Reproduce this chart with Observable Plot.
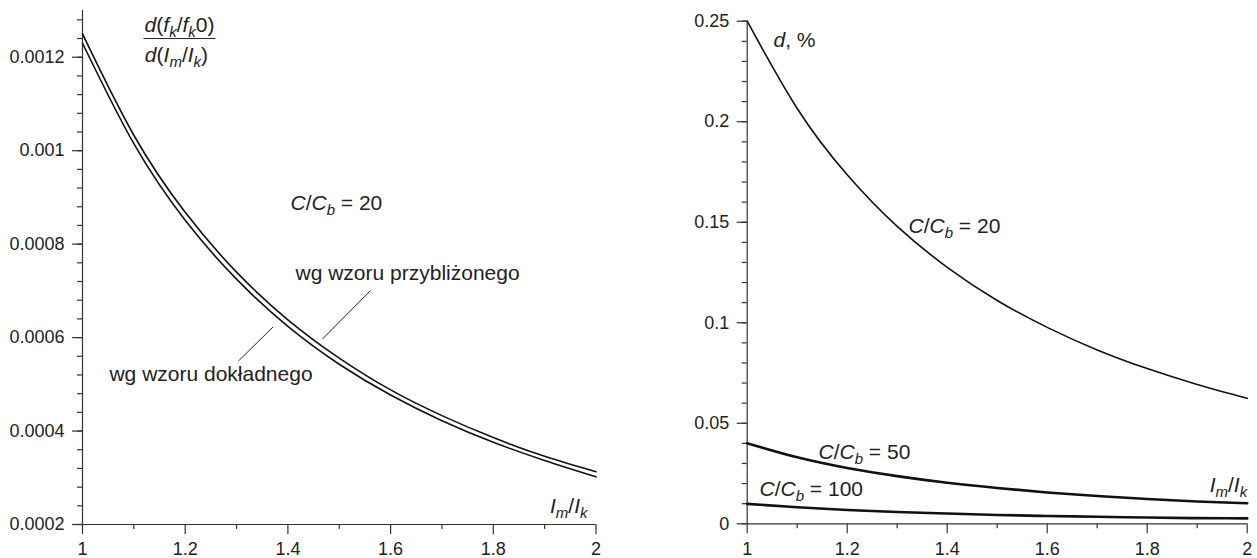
<!DOCTYPE html>
<html><head><meta charset="utf-8">
<script src="https://cdn.jsdelivr.net/npm/d3@7"></script>
<script src="https://cdn.jsdelivr.net/npm/@observablehq/plot@0.6"></script>
<style>
body{margin:0;background:#fff}
#wrap{display:flex;width:1257px;height:558px;overflow:hidden}
</style>
</head><body><div id="wrap"></div>
<script>
// ---- data ----
const ratio = [1, 1.1, 1.2, 1.3, 1.4, 1.5, 1.6, 1.7, 1.8, 1.9, 2];
const leftApprox = [0.00125, 0.001033, 0.000868, 0.00074, 0.000638, 0.000556, 0.000488, 0.000433, 0.000386, 0.000346, 0.000313];
const leftExact  = [0.00123, 0.001015, 0.000851, 0.000725, 0.000624, 0.000543, 0.000477, 0.000422, 0.000376, 0.000337, 0.000302];
const rightC20  = [0.25, 0.2066, 0.1736, 0.1479, 0.1276, 0.1111, 0.0977, 0.0865, 0.0772, 0.0693, 0.0624];
const rightC50  = [0.0401, 0.0331, 0.0278, 0.0237, 0.0204, 0.0178, 0.0156, 0.0138, 0.0123, 0.0111, 0.0102];
const rightC100 = [0.0099, 0.0082, 0.0069, 0.0059, 0.0051, 0.0044, 0.0039, 0.0035, 0.0031, 0.0028, 0.0027];

const xTicks = [1, 1.2, 1.4, 1.6, 1.8, 2];
const xTickLabels = ["1", "1.2", "1.4", "1.6", "1.8", "2"];
const xMinor = [1.1, 1.3, 1.5, 1.7, 1.9];
const leftYTicks = [0.0002, 0.0004, 0.0006, 0.0008, 0.001, 0.0012];
const leftYTickLabels = ["0.0002", "0.0004", "0.0006", "0.0008", "0.001", "0.0012"];
const leftYMinor = d3.range(0, 28).map(i => 0.0002 + i * 0.00004);
const rightYTicks = [0, 0.05, 0.1, 0.15, 0.2, 0.25];
const rightYTickLabels = ["0", "0.05", "0.1", "0.15", "0.2", "0.25"];
const rightYMinor = d3.range(0, 26).map(i => i * 0.01);

// annotations (data coordinates), rich segments: [text, flags] i=italic s=subscript
const leftNotes = [
  {x: 1.405, y: 0.000888, anchor: "start", segs: [["C","i"],["/",""],["C","i"],["b","is"],[" = 20",""]]},
  {x: 1.4148, y: 0.000737, anchor: "start", segs: [["wg wzoru przybliżonego",""]]},
  {x: 1.0525, y: 0.000522, anchor: "start", segs: [["wg wzoru dokładnego",""]]},
  {x: 1.9834, y: 0.000239, anchor: "end", segs: [["I","i"],["m","is"],["/",""],["I","i"],["k","is"]]},
  {x: 1.189, y: 0.001268, anchor: "middle", segs: [["d","i"],["(",""],["f","i"],["k","is"],["/",""],["f","i"],["k","is"],["0",""],[")",""]]},
  {x: 1.183, y: 0.0012043, anchor: "middle", segs: [["d","i"],["(",""],["I","i"],["m","is"],["/",""],["I","i"],["k","is"],[")",""]]}
];
const leftLeaders = [
  {x1: 1.5608, y1: 0.0007005, x2: 1.4674, y2: 0.000597},
  {x1: 1.3713, y1: 0.000623, x2: 1.3038, y2: 0.00055},
  {x1: 1.1188, y1: 0.00124, x2: 1.259, y2: 0.00124}
];
const rightNotes = [
  {x: 1.0526, y: 0.2403, anchor: "start", segs: [["d","i"],[", %",""]]},
  {x: 1.3226, y: 0.1482, anchor: "start", segs: [["C","i"],["/",""],["C","i"],["b","is"],[" = 20",""]]},
  {x: 1.1426, y: 0.0358, anchor: "start", segs: [["C","i"],["/",""],["C","i"],["b","is"],[" = 50",""]]},
  {x: 1.0246, y: 0.017, anchor: "start", segs: [["C","i"],["/",""],["C","i"],["b","is"],[" = 100",""]]},
  {x: 2.0, y: 0.019, anchor: "end", segs: [["I","i"],["m","is"],["/",""],["I","i"],["k","is"]]}
];

const series = (ys) => ratio.map((x, i) => ({x, y: ys[i]}));
const FONT = "'Liberation Sans', Arial, Helvetica, sans-serif";
const TXT = "#222";
const plain = n => n.segs.map(s => s[0]).join("");

function richAll(chart, notes) {
  const map = new Map(notes.map(n => [plain(n), n]));
  d3.select(chart).selectAll("text").each(function() {
    const n = map.get(this.textContent);
    if (!n) return;
    const t = d3.select(this);
    t.text(null);
    let sub = false;
    n.segs.forEach(([s, f]) => {
      const ts = t.append("tspan").text(s);
      if (f.includes("i")) ts.attr("font-style", "italic");
      const isSub = f.includes("s");
      if (isSub && !sub) ts.attr("dy", 5);
      if (!isSub && sub) ts.attr("dy", -5);
      if (isSub) ts.attr("font-size", 15);
      sub = isSub;
    });
  });
}

function textMarks(notes) {
  return ["start", "middle", "end"].map(a =>
    Plot.text(notes.filter(n => n.anchor === a), {x: "x", y: "y", text: plain,
      textAnchor: a, lineAnchor: "middle", fontSize: 21, fill: TXT}));
}

function axes(yMinor, yTicks, yLabels) {
  return [
    Plot.axisY(yMinor, {tickSize: 5, tickFormat: () => "", strokeWidth: 1.2, label: null}),
    Plot.axisY(yTicks, {tickSize: 10, tickPadding: 8, fontSize: 18, fill: TXT, strokeWidth: 1.2, label: null,
      tickFormat: d => yLabels[yTicks.indexOf(d)]}),
    Plot.axisX(xMinor, {tickSize: 5, tickFormat: () => "", strokeWidth: 1.2, label: null}),
    Plot.axisX(xTicks, {tickSize: 10, tickPadding: 8, fontSize: 18, fill: TXT, strokeWidth: 1.2, label: null,
      tickFormat: d => xTickLabels[xTicks.indexOf(d)]})
  ];
}

// ---- left chart ----
const left = Plot.plot({
  width: 628, height: 558,
  marginLeft: 82, marginRight: 32.5, marginTop: 10, marginBottom: 34,
  style: {fontFamily: FONT, fontSize: "18px", color: "#333", background: "#fff"},
  x: {domain: [1, 2], axis: null},
  y: {domain: [0.0002, 0.0013], axis: null},
  marks: [
    ...axes(leftYMinor, leftYTicks, leftYTickLabels),
    Plot.ruleX([1], {stroke: "#333", strokeWidth: 1.2}),
    Plot.ruleY([0.0002], {stroke: "#333", strokeWidth: 1.2}),
    Plot.line(series(leftApprox), {x: "x", y: "y", curve: "natural", stroke: "#111", strokeWidth: 1.6}),
    Plot.line(series(leftExact), {x: "x", y: "y", curve: "natural", stroke: "#111", strokeWidth: 1.6}),
    Plot.link(leftLeaders, {x1: "x1", y1: "y1", x2: "x2", y2: "y2", stroke: "#222", strokeWidth: 1}),
    ...textMarks(leftNotes)
  ]
});
richAll(left, leftNotes);

// ---- right chart ----
const right = Plot.plot({
  width: 629, height: 558,
  marginLeft: 118.7, marginRight: 10.3, marginTop: 20.7, marginBottom: 34.7,
  style: {fontFamily: FONT, fontSize: "18px", color: "#333", background: "#fff"},
  x: {domain: [1, 2], axis: null},
  y: {domain: [0, 0.25], axis: null},
  marks: [
    ...axes(rightYMinor, rightYTicks, rightYTickLabels),
    Plot.ruleX([1], {stroke: "#333", strokeWidth: 1.2}),
    Plot.ruleY([0], {stroke: "#333", strokeWidth: 1.2}),
    Plot.line(series(rightC20), {x: "x", y: "y", curve: "natural", stroke: "#111", strokeWidth: 1.6}),
    Plot.line(series(rightC50), {x: "x", y: "y", curve: "natural", stroke: "#111", strokeWidth: 2.6}),
    Plot.line(series(rightC100), {x: "x", y: "y", curve: "natural", stroke: "#111", strokeWidth: 2.6}),
    ...textMarks(rightNotes)
  ]
});
richAll(right, rightNotes);

document.getElementById("wrap").append(left, right);
</script>
</body></html>
